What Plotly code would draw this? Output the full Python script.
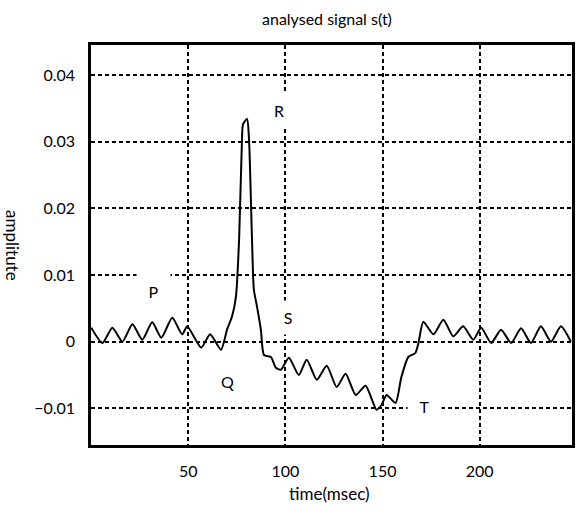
import plotly.graph_objects as go

# time (msec) and amplitude
time_ms = [0.1, 5.9, 11.0, 16.2, 21.3, 26.4, 31.5, 36.2, 41.8, 46.9, 49.5, 56.7, 61.3, 66.9,
           70.0, 72.6, 74.6, 76.2, 77.7, 78.2, 80.3, 81.3, 82.8, 83.8, 85.4, 87.4, 89.0,
           92.6, 95.1, 97.7, 101.8, 106.9, 111.0, 116.2, 121.3, 126.4, 131.0, 136.2, 141.3,
           146.9, 149.5, 152.1, 156.7, 159.7, 163.3, 166.9, 168.5, 171.0, 176.2, 181.3,
           186.4, 191.5, 196.7, 200.8, 205.9, 211.0, 216.2, 221.3, 226.4, 231.5, 236.7,
           241.8, 246.9]
amplitude = [0.0021, -0.0002, 0.0021, 0.0000, 0.0026, 0.0003, 0.0029, 0.0006, 0.0036, 0.0011,
             0.0023, -0.0009, 0.0011, -0.0012, 0.0018, 0.0038, 0.0068, 0.0153, 0.0304, 0.0326,
             0.0334, 0.0304, 0.0158, 0.0078, 0.0053, 0.0018, -0.0020, -0.0023, -0.0039,
             -0.0042, -0.0024, -0.0050, -0.0027, -0.0057, -0.0036, -0.0068, -0.0048, -0.0080,
             -0.0066, -0.0102, -0.0095, -0.0080, -0.0092, -0.0053, -0.0023, -0.0017, -0.0002,
             0.0030, 0.0011, 0.0033, 0.0008, 0.0023, 0.0003, 0.0021, -0.0002, 0.0018, -0.0002,
             0.0020, -0.0002, 0.0023, 0.0000, 0.0023, 0.0000]

x_ticks = [50, 100, 150, 200]
y_ticks = [-0.01, 0, 0.01, 0.02, 0.03, 0.04]
y_tick_labels = ["\u22120.01", "0", "0.01", "0.02", "0.03", "0.04"]

# wave labels: text, time, amplitude
wave_labels = ["P", "Q", "R", "S", "T"]
wave_t = [32.0, 70.0, 96.6, 101.2, 171.8]
wave_v = [0.0060, -0.0060, 0.0348, 0.0037, -0.0097]

FONT = "Lato"

fig = go.Figure()
fig.add_trace(go.Scatter(x=time_ms, y=amplitude, mode="lines",
                         line=dict(color="black", width=2, shape="spline", smoothing=0.6),
                         showlegend=False, hoverinfo="skip"))

# label boxes (white background breaks the grid lines like the original)
box = {"P": dict(width=33, height=34, valign="bottom", yanchor="bottom"),
       "Q": dict(),
       "R": dict(width=20, height=36),
       "S": dict(width=16, height=33),
       "T": dict(width=33, height=20)}
for lab, t, v in zip(wave_labels, wave_t, wave_v):
    kw = box[lab]
    fig.add_annotation(x=t, y=v, text=lab, showarrow=False,
                       font=dict(family=FONT, size=16, color="black"),
                       bgcolor="white" if kw else None, borderpad=0, **kw)

fig.add_annotation(text="analysed signal s(t)", xref="paper", yref="paper",
                   x=0.49, y=1, yanchor="middle", xanchor="center", yshift=27,
                   showarrow=False, font=dict(family=FONT, size=16, color="black"))
fig.add_annotation(text="time(msec)", xref="paper", yref="paper",
                   x=0.495, y=0, yanchor="middle", xanchor="center", yshift=-48,
                   showarrow=False, font=dict(family=FONT, size=17, color="black"))
fig.add_annotation(text="amplitute", xref="paper", yref="paper",
                   x=0, xshift=-78, y=0.5, xanchor="center", yanchor="middle",
                   textangle=90, showarrow=False,
                   font=dict(family=FONT, size=17, color="black"))

fig.update_xaxes(range=[0, 247.5], tickvals=x_ticks, ticks="", showgrid=True,
                 gridcolor="black", gridwidth=1.5, griddash="4px,3px", zeroline=False,
                 showline=True, linecolor="black", linewidth=2.5, mirror=True,
                 tickfont=dict(family=FONT, size=16, color="black"),
                 ticklabelstandoff=10)
fig.update_yaxes(range=[-0.0155, 0.0445], tickvals=y_ticks, ticktext=y_tick_labels,
                 ticks="", showgrid=True, gridcolor="black", gridwidth=1.5,
                 griddash="4px,3px", zeroline=False,
                 showline=True, linecolor="black", linewidth=2.5, mirror=True,
                 tickfont=dict(family=FONT, size=16, color="black"),
                 ticklabelstandoff=10)

fig.update_layout(width=576, height=515, margin=dict(l=91, r=1, t=45, b=70),
                  plot_bgcolor="white", paper_bgcolor="white", showlegend=False)

fig.write_html("out.html")
